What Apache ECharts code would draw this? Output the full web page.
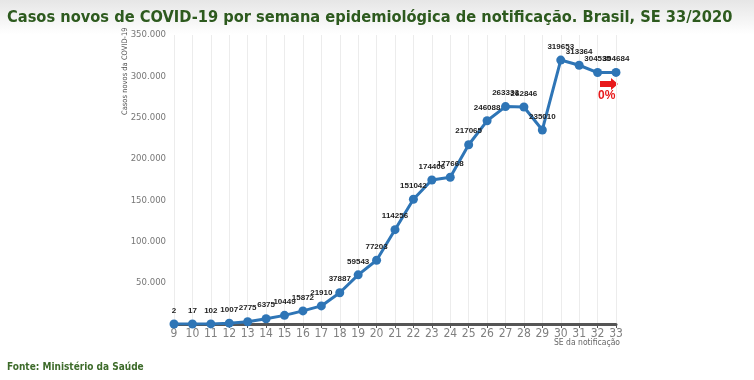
<!DOCTYPE html>
<html><head><meta charset="utf-8">
<script src="https://cdn.jsdelivr.net/npm/echarts@6/dist/echarts.min.js"></script>
<style>html,body{margin:0;padding:0;background:#fff}#c{width:754px;height:380px}</style>
</head><body><div id="c"></div>
<script>
const categories = ['9','10','11','12','13','14','15','16','17','18','19','20','21','22','23','24','25','26','27','28','29','30','31','32','33'];
const casos = [2,17,102,1007,2775,6375,10449,15872,21910,37887,59543,77203,114256,151042,174406,177668,217065,246088,263333,262846,235010,319653,313364,304535,304684];
const yTicks = [0,50000,100000,150000,200000,250000,300000,350000];

const NARROW = "'DejaVu Sans Condensed', 'Liberation Sans Narrow', 'Noto Sans', sans-serif";
const chart = echarts.init(document.getElementById('c'));
chart.setOption({
  backgroundColor: {type:'linear',x:0,y:0,x2:0,y2:1,colorStops:[{offset:0,color:'#e6e6e6'},{offset:0.09,color:'#ffffff'},{offset:1,color:'#ffffff'}]},
  title: {
    text: 'Casos novos de COVID-19 por semana epidemiológica de notificação. Brasil, SE 33/2020',
    left: 2, top: 5,
    textStyle: {fontFamily: NARROW, fontWeight:'bold', fontSize:16.3, color:'#2d5a1e'}
  },
  grid: {left: 174, right: 138, top: 35, bottom: 56, containLabel:false, outerBoundsMode:'none'},
  xAxis: {
    type:'category', data: categories, boundaryGap:false,
    axisLine:{lineStyle:{color:'#555', width:3}},
    axisTick:{show:true, length:4, lineStyle:{color:'#555'}},
    axisLabel:{color:'#808080', fontSize:12, fontFamily:NARROW, margin:4, interval:0},
    splitLine:{show:true, lineStyle:{color:'#ececec', width:1}}
  },
  yAxis: {
    type:'value', min:0, max:350000, interval:50000,
    axisLine:{show:false}, axisTick:{show:false},
    splitLine:{show:false},
    axisLabel:{color:'#777', fontSize:9.5, fontFamily:NARROW, margin:8,
      formatter: v => yTicks.includes(v) ? (v===0 ? '' : (v/1000).toFixed(0)+'.000') : ''}
  },
  series: [{
    type:'line', data: casos,
    symbol:'circle', symbolSize:9,
    lineStyle:{color:'#2e75b6', width:3},
    itemStyle:{color:'#2e75b6'},
    label:{show:true, position:'top', distance:5, color:'#222', fontSize:8, fontWeight:'bold', fontFamily:'Liberation Sans'}
  }],
  graphic: [
    {type:'text', x:121, y:115, rotation:Math.PI/2, style:{text:'Casos novos da COVID-19', fill:'#555', font:'7.5px ' + NARROW, align:'left', verticalAlign:'top'}},
    {type:'text', x:620, y:338, style:{text:'SE da notificação', fill:'#666', font:'8.5px ' + NARROW, align:'right', verticalAlign:'top'}},
    {type:'text', left:7, top:362, style:{text:'Fonte: Ministério da Saúde', fill:'#3d6b2a', font:'bold 10px ' + NARROW}},
    {type:'polygon', shape:{points:[[600,81],[611,81],[611,78],[618,84],[611,90],[611,87],[600,87]]}, style:{fill:'#e8191b'}},
    {type:'text', left:598, top:90, style:{text:'0%', fill:'#e8191b', font:'bold 12px "Liberation Sans"'}}
  ]
});
</script></body></html>
